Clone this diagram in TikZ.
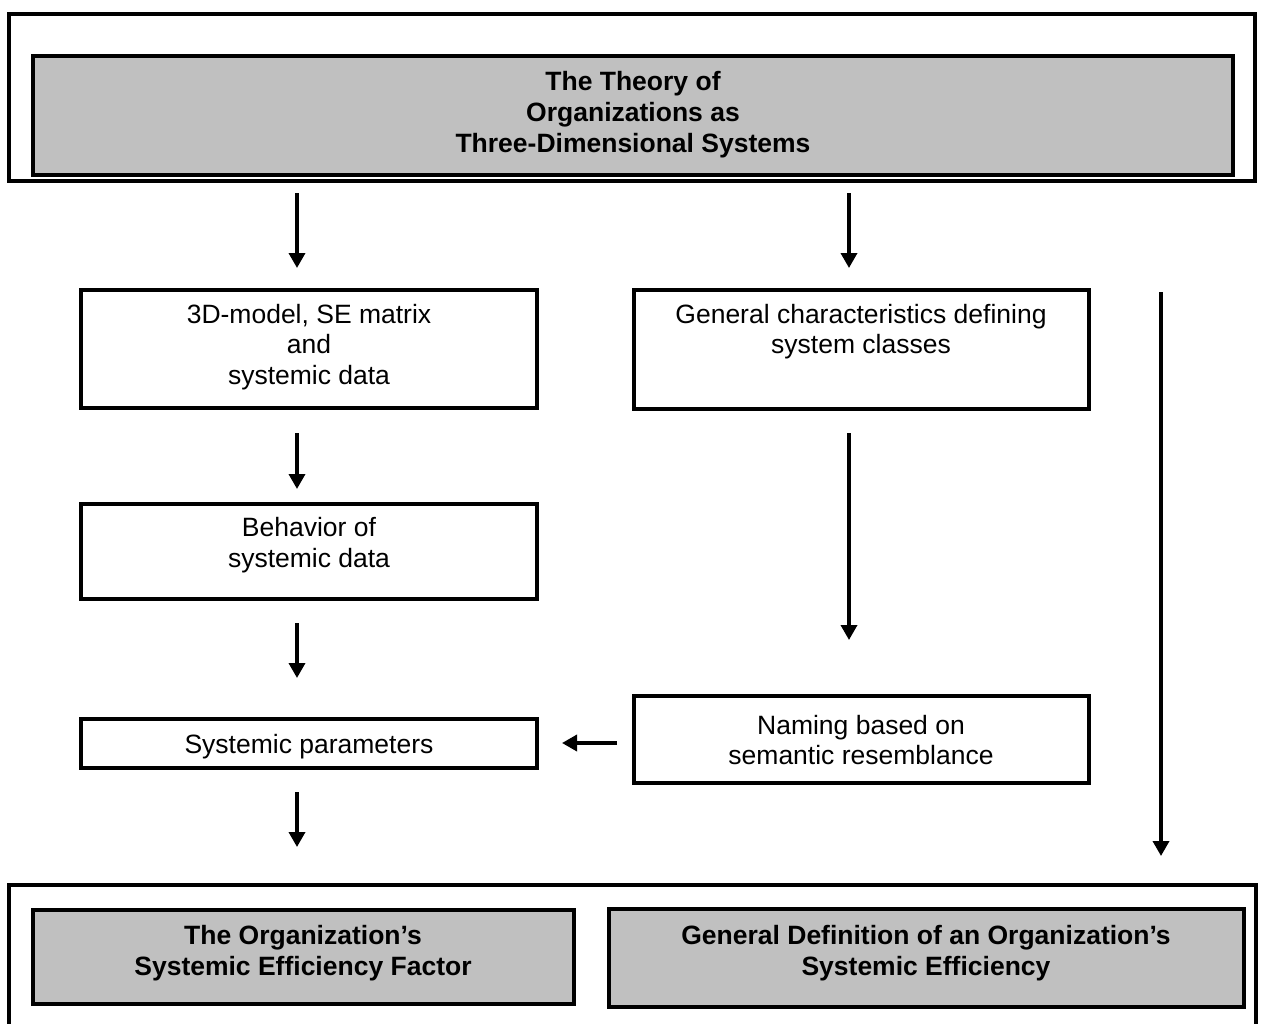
\documentclass[tikz,border=0pt]{standalone}
\usepackage{fontspec}
\setmainfont{Liberation Sans}
\usetikzlibrary{arrows.meta}
\definecolor{boxgray}{HTML}{C0C0C0}
\begin{document}
\begin{tikzpicture}[x=1pt,y=-1pt,
  box/.style={draw=black, line width=4pt, fill=white, inner sep=0pt},
  graybox/.style={box, fill=boxgray},
  lbl/.style={font=\fontsize{26.5}{30.5}\selectfont, align=center, inner sep=0pt},
  ttl/.style={font=\fontsize{26.5}{31}\selectfont\bfseries, align=center, inner sep=0pt},
  flow/.style={line width=3.5pt, -{Triangle[width=16pt,length=15pt]}}]
  \clip (0,0) rectangle (1264,1023);
  \fill[white] (0,0) rectangle (1264,1023);

  % top frame with the theory box
  \node[box, minimum width=1246pt, minimum height=167pt] (topframe) at (632,97.5) {};
  \node[graybox, minimum width=1199.7pt, minimum height=119.2pt] (theory) at (633.2,115.1) {};
  \node[ttl] (theorytext) at (633,114.5) {The Theory of\\Organizations as\\Three-Dimensional Systems};

  % left column
  \node[box, minimum width=456pt, minimum height=117.5pt] (model) at (309,348.75) {};
  \node[lbl] (modeltext) at (309,347) {3D-model, SE matrix\\and\\systemic data};
  \node[box, minimum width=456pt, minimum height=95pt] (behav) at (309,551.2) {};
  \node[lbl] (behavtext) at (309,545) {Behavior of\\systemic data};
  \node[box, minimum width=456pt, minimum height=49.3pt] (params) at (309,743.65) {};
  \node[lbl] (paramstext) at (309,747) {Systemic parameters};

  % right column
  \node[box, minimum width=455pt, minimum height=118.7pt] (classes) at (861.2,349.35) {};
  \node[lbl] (classestext) at (861,331.5) {General characteristics defining\\system classes};
  \node[box, minimum width=455pt, minimum height=86.7pt] (naming) at (861.2,739.35) {};
  \node[lbl] (namingtext) at (861,739.8) {Naming based on\\semantic resemblance};

  % bottom frame with the two result boxes
  \node[box, minimum width=1247pt, minimum height=200pt] (botframe) at (632.5,985) {};
  \node[graybox, minimum width=540.7pt, minimum height=94.3pt] (factor) at (303.35,956.85) {};
  \node[ttl] (factortext) at (303,953) {The Organization’s\\Systemic Efficiency Factor};
  \node[graybox, minimum width=634.7pt, minimum height=98pt] (defn) at (926.35,958) {};
  \node[ttl] (defntext) at (926,953) {General Definition of an Organization’s\\Systemic Efficiency};

  % arrow end points
  \coordinate (a1s) at (297,193);  \coordinate (a1e) at (297,268);
  \coordinate (a2s) at (297,433);  \coordinate (a2e) at (297,489);
  \coordinate (a3s) at (297,623);  \coordinate (a3e) at (297,678);
  \coordinate (a4s) at (297,792);  \coordinate (a4e) at (297,847);
  \coordinate (b1s) at (849,193);  \coordinate (b1e) at (849,268);
  \coordinate (b2s) at (849,433);  \coordinate (b2e) at (849,640);
  \coordinate (c1s) at (1161,292); \coordinate (c1e) at (1161,856);
  \coordinate (h1s) at (617,743);  \coordinate (h1e) at (562,743);

  \draw[flow] (a1s) -- (a1e);
  \draw[flow] (a2s) -- (a2e);
  \draw[flow] (a3s) -- (a3e);
  \draw[flow] (a4s) -- (a4e);
  \draw[flow] (b1s) -- (b1e);
  \draw[flow] (b2s) -- (b2e);
  \draw[flow] (c1s) -- (c1e);
  \draw[flow] (h1s) -- (h1e);
\end{tikzpicture}
\end{document}
